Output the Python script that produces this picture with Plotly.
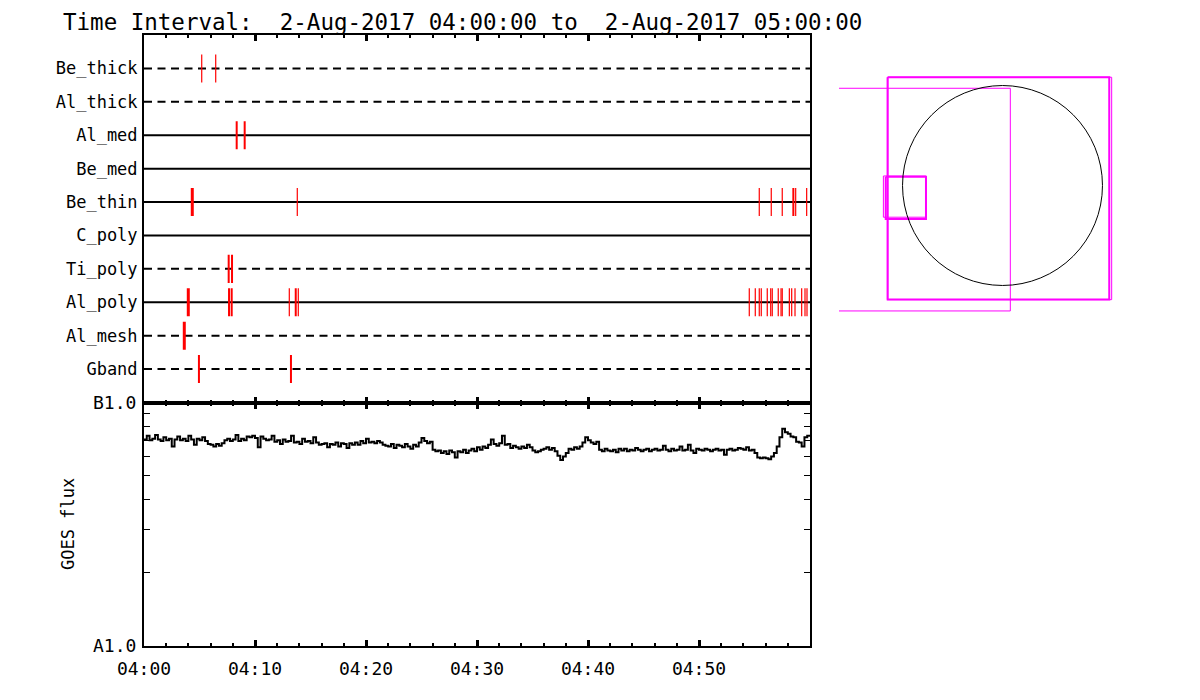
import pandas as pd
import plotly.graph_objects as go

# ---------------- data ----------------
START = "2017-08-02 04:00:00"
END = "2017-08-02 05:00:00"
TITLE = "Time Interval:  2-Aug-2017 04:00:00 to  2-Aug-2017 05:00:00"

# Filter rows, bottom (1) to top (10)
ROW_NAMES = ["Gband", "Al_mesh", "Al_poly", "Ti_poly", "C_poly",
             "Be_thin", "Be_med", "Al_med", "Al_thick", "Be_thick"]
ROW_IN_USE = [False, False, True, False, True, True, True, True, False, False]

# Event times (minutes after 04:00) and strengths (1 weak .. 3 strong) per filter
GBAND_T = [4.95, 13.24]
GBAND_S = [2, 2]
AL_MESH_T = [3.63]
AL_MESH_S = [3]
AL_POLY_T = [3.99, 7.66, 7.90, 13.09, 13.67, 13.90,
             54.53, 55.07, 55.43, 55.61, 56.15, 56.46, 56.60, 57.14,
             57.39, 57.50, 58.14, 58.35, 58.65, 59.25, 59.55, 59.73]
AL_POLY_S = [3, 2, 2, 1, 2, 1,
             1, 1, 1, 1, 1, 1, 1, 1,
             1, 1, 1, 1, 1, 1, 1, 1]
TI_POLY_T = [7.63, 7.93]
TI_POLY_S = [2, 2]
C_POLY_T = []
C_POLY_S = []
BE_THIN_T = [4.35, 13.81, 55.43, 56.51, 57.50, 58.50, 58.71, 59.70]
BE_THIN_S = [3, 1, 1, 1, 1, 2, 1, 1]
BE_MED_T = []
BE_MED_S = []
AL_MED_T = [8.35, 9.07]
AL_MED_S = [2, 2]
AL_THICK_T = []
AL_THICK_S = []
BE_THICK_T = [5.20, 6.46]
BE_THICK_S = [1, 1]

EVENTS_T = [GBAND_T, AL_MESH_T, AL_POLY_T, TI_POLY_T, C_POLY_T,
            BE_THIN_T, BE_MED_T, AL_MED_T, AL_THICK_T, BE_THICK_T]
EVENTS_S = [GBAND_S, AL_MESH_S, AL_POLY_S, TI_POLY_S, C_POLY_S,
            BE_THIN_S, BE_MED_S, AL_MED_S, AL_THICK_S, BE_THICK_S]

# GOES flux, in units of 1e-8 W/m^2, every 15 s from 04:00 to 05:00
GOES_FLUX = [
    7.05, 7.30, 7.00, 7.10, 7.35, 7.05, 6.95, 7.20, 7.00, 7.10, 6.60, 7.05,
    7.25, 7.00, 7.10, 6.95, 7.30, 7.05, 6.70, 7.10, 7.00, 7.20, 6.95, 6.75,
    6.70, 6.60, 6.75, 6.65, 6.80, 7.00, 7.10, 6.95, 7.05, 7.35, 6.95, 7.10,
    7.00, 7.25, 7.20, 7.30, 7.15, 6.55, 7.25, 7.10, 7.00, 7.05, 7.30, 6.90,
    7.00, 6.75, 7.05, 6.90, 6.95, 7.30, 6.85, 6.90, 6.75, 7.10, 6.90, 6.95,
    6.80, 7.20, 6.85, 6.70, 6.75, 6.80, 6.55, 6.75, 6.70, 6.85, 6.60, 6.80,
    6.75, 6.50, 6.80, 6.70, 6.85, 6.70, 6.95, 6.80, 7.10, 6.85, 6.90, 6.80,
    6.95, 6.85, 6.70, 6.65, 6.60, 6.75, 6.50, 6.70, 6.65, 6.55, 6.75, 6.60,
    6.45, 6.70, 6.60, 6.85, 7.15, 6.95, 6.80, 6.90, 6.40, 6.30, 6.35, 6.20,
    6.30, 6.15, 6.35, 6.25, 5.95, 6.30, 6.25, 6.40, 6.20, 6.35, 6.45, 6.30,
    6.55, 6.40, 6.60, 6.50, 6.70, 7.05, 6.75, 6.65, 6.80, 7.30, 6.70, 6.75,
    6.50, 6.65, 6.55, 6.45, 6.60, 6.50, 6.70, 6.55, 6.35, 6.25, 6.30, 6.40,
    6.45, 6.55, 6.40, 6.50, 6.30, 6.05, 5.80, 6.00, 6.20, 6.45, 6.40, 6.55,
    6.45, 6.60, 6.85, 7.20, 7.00, 6.85, 6.75, 6.90, 6.40, 6.30, 6.45, 6.35,
    6.30, 6.40, 6.25, 6.45, 6.35, 6.45, 6.30, 6.40, 6.35, 6.50, 6.40, 6.30,
    6.40, 6.45, 6.30, 6.40, 6.45, 6.35, 6.40, 6.65, 6.40, 6.30, 6.45, 6.35,
    6.40, 6.60, 6.35, 6.40, 6.70, 6.35, 6.20, 6.45, 6.40, 6.35, 6.45, 6.40,
    6.30, 6.40, 6.45, 6.35, 6.40, 6.10, 6.40, 6.45, 6.35, 6.40, 6.50, 6.45,
    6.40, 6.55, 6.35, 6.40, 6.20, 5.95, 5.90, 5.95, 5.90, 5.85, 6.00, 6.20,
    6.60, 7.20, 7.80, 7.55, 7.45, 7.25, 7.20, 6.90, 6.85, 6.60, 7.20, 7.30,
    7.25,
]
GOES_UNIT = 1e-8
GOES_TICK_LABELS = ["A1.0", "B1.0"]

X_TICK_LABELS = ["04:00", "04:10", "04:20", "04:30", "04:40", "04:50"]

# Solar disk and fields of view (arcsec)
SUN_RADIUS = 946
FOV_BOXES = [  # x0, x1, y0, y1
    [-1086, 1010, -1078, 1024],
    [-1090, 1033, -1080, 1024],
    [-1750, 74, -1187, 920],
    [-1105, -724, -317, 83],
    [-1127, -724, -300, 90],
]
FOV_WEIGHT = [2, 1, 1, 2, 1]
MAP_HALF_RANGE = 1547

# ---------------- figure ----------------
t0 = pd.Timestamp(START)
t1 = pd.Timestamp(END)


def mins(m):
    return t0 + pd.to_timedelta(m, unit="min")


FONT = "DejaVu Sans Mono"
fig = go.Figure()

# filter rows
for i, (name, used) in enumerate(zip(ROW_NAMES, ROW_IN_USE)):
    row = i + 1
    fig.add_trace(go.Scatter(
        x=[t0, t1], y=[row, row], mode="lines",
        line=dict(color="black", width=2, dash="solid" if used else "8px,5.5px"),
        xaxis="x", yaxis="y", showlegend=False, hoverinfo="skip"))

# events
EVT_WIDTH = {1: 1.2, 2: 2, 3: 3}
for level in (1, 2, 3):
    xs, ys = [], []
    for i, (ts, ss) in enumerate(zip(EVENTS_T, EVENTS_S)):
        row = i + 1
        for t, s in zip(ts, ss):
            if s == level:
                xs += [mins(t), mins(t), None]
                ys += [row - 0.42, row + 0.42, None]
    fig.add_trace(go.Scatter(
        x=xs, y=ys, mode="lines",
        line=dict(color="#ff0000", width=EVT_WIDTH[level]),
        xaxis="x", yaxis="y", showlegend=False, hoverinfo="skip"))

# GOES
goes_t = pd.date_range(t0, t1, periods=len(GOES_FLUX))
fig.add_trace(go.Scatter(
    x=goes_t, y=[v * GOES_UNIT for v in GOES_FLUX], mode="lines",
    line=dict(color="black", width=2, shape="hv"),
    xaxis="x2", yaxis="y2", showlegend=False, hoverinfo="skip"))

# map panel
for (x0, x1, y0, y1), w in zip(FOV_BOXES, FOV_WEIGHT):
    fig.add_trace(go.Scatter(
        x=[x0, x1, x1, x0, x0], y=[y1, y1, y0, y0, y1], mode="lines",
        line=dict(color="#ff00ff", width=w),
        xaxis="x3", yaxis="y3", showlegend=False, hoverinfo="skip"))
fig.add_shape(type="circle", xref="x3", yref="y3",
              x0=-SUN_RADIUS, x1=SUN_RADIUS, y0=-SUN_RADIUS, y1=SUN_RADIUS,
              line=dict(color="black", width=1))

W, H = 1200, 700
OFF = 8  # page margin of the html body
XL, XR = 144, 810
TOP_Y0, TOP_Y1 = 35, 402.5
BOT_Y1 = 646


def px_x(a, b):
    return [(a - OFF) / W, (b - OFF) / W]


def px_y(top, bottom):
    return [1 - (bottom - OFF) / H, 1 - (top - OFF) / H]


major_vals = [mins(10 * k) for k in range(6)]
common_x = dict(
    type="date", range=[t0, t1], domain=px_x(XL, XR), automargin=False,
    showline=True, linecolor="black", linewidth=2, mirror="ticks",
    ticks="inside", ticklen=6, tickwidth=3, tickcolor="black",
    tickvals=major_vals, ticktext=X_TICK_LABELS,
    minor=dict(ticks="inside", dtick=120000, ticklen=3, tickwidth=2,
               tickcolor="black", showgrid=False),
    showgrid=False, zeroline=False,
)

goes_ticks = [k * GOES_UNIT for k in range(1, 11)]
goes_text = [GOES_TICK_LABELS[0]] + [""] * 8 + [GOES_TICK_LABELS[1]]

fig.update_layout(
    width=W, height=H, margin=dict(l=0, r=0, t=0, b=0, autoexpand=False),
    paper_bgcolor="white", plot_bgcolor="white",
    font=dict(family=FONT, color="black", size=17),
    xaxis=dict(common_x, anchor="y", showticklabels=False),
    yaxis=dict(domain=px_y(TOP_Y0, TOP_Y1), range=[0, 11], automargin=False,
               tickvals=list(range(1, 11)), ticktext=ROW_NAMES,
               ticks="", showline=True, mirror=True, linecolor="black",
               linewidth=2, showgrid=False, zeroline=False,
               tickfont=dict(size=17, family=FONT), ticklabelstandoff=1),
    xaxis2=dict(common_x, anchor="y2", matches="x", showticklabels=True,
                tickfont=dict(size=18, family=FONT), ticklabelstandoff=5),
    yaxis2=dict(domain=px_y(TOP_Y1, BOT_Y1), type="log", range=[-8, -7],
                automargin=False,
                tickvals=goes_ticks, ticktext=goes_text,
                ticks="inside", ticklen=6, tickwidth=1, tickcolor="black",
                showline=True, mirror="ticks", linecolor="black", linewidth=2,
                showgrid=False, zeroline=False,
                tickfont=dict(size=18, family=FONT), ticklabelstandoff=2),
    xaxis3=dict(domain=px_x(839, 1166), range=[-MAP_HALF_RANGE, MAP_HALF_RANGE],
                visible=False, anchor="y3", automargin=False),
    yaxis3=dict(domain=px_y(22, 349), range=[-MAP_HALF_RANGE, MAP_HALF_RANGE],
                visible=False, anchor="x3", automargin=False),
)

fig.add_annotation(text=TITLE, xref="paper", yref="paper",
                   x=(62 - OFF) / W, y=1.0,
                   xanchor="left", yanchor="top", borderpad=0,
                   showarrow=False, font=dict(size=22.5, family=FONT))
fig.add_annotation(text="GOES flux", xref="paper", yref="paper",
                   x=(68 - OFF) / W, y=1 - (524 - OFF) / H,
                   xanchor="center", yanchor="middle",
                   textangle=-90, showarrow=False, font=dict(size=17, family=FONT))

fig.write_html("out.html")
